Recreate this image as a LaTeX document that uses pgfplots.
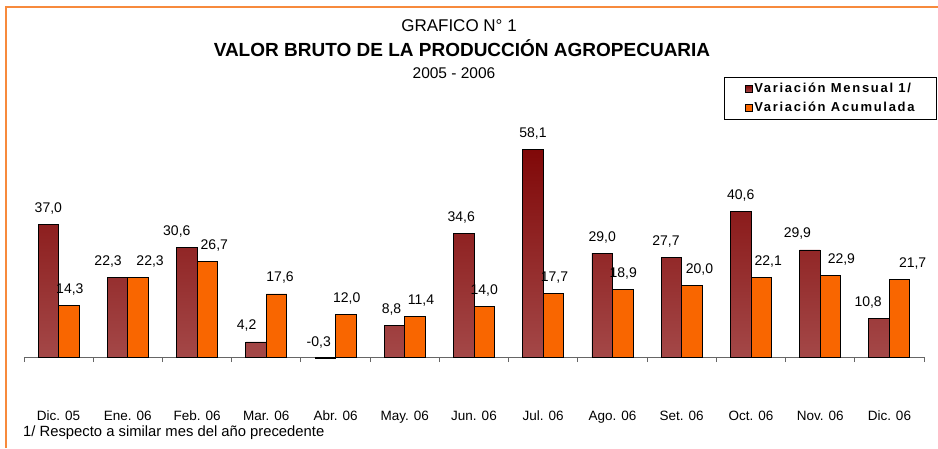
\documentclass[border=0pt]{standalone}
\usepackage{pgfplots}
\usepackage{pgfplotstable}
\pgfplotsset{compat=1.18}
\usepackage{fontspec}
\setmainfont{Liberation Sans}
\newfontfamily\legfont[LetterSpace=13]{Liberation Sans}
\definecolor{darkTop}{RGB}{128,8,8}
\definecolor{darkBot}{RGB}{164,72,72}
\definecolor{barOrange}{RGB}{249,102,0}
\definecolor{frameOrange}{RGB}{247,138,60}
\pgfplotstableread{
x y dx
0 37.0 0
1 22.3 -9.5
2 30.6 -10
3 4.2 -9.5
4 -0.3 -6.5
5 8.8 -3
6 34.6 -2.5
7 58.1 0
8 29.0 0
9 27.7 -5.5
10 40.6 0
11 29.9 -12.5
12 10.8 -11
}\mensual
\pgfplotstableread{
x y dx
0 14.3 1
1 22.3 12
2 26.7 7
3 17.6 3.5
4 12.0 1
5 11.4 6
6 14.0 0
7 17.7 1
8 18.9 0.5
9 20.0 7.5
10 22.1 7
11 22.9 11
12 21.7 13
}\acumulada
\begin{document}
\begin{tikzpicture}
\path[use as bounding box] (0pt,0pt) rectangle (938pt,448pt);
\draw[frameOrange, line width=2.2pt] (6pt,0pt) -- (6pt,441pt) -- (938pt,441pt);
\node[font=\fontsize{17}{19}\selectfont] at (459pt,422pt) {GRAFICO N° 1};
\node[font=\fontsize{19}{21}\selectfont\bfseries] at (462pt,400pt) {VALOR BRUTO DE LA PRODUCCIÓN AGROPECUARIA};
\node[font=\fontsize{15.5}{18}\selectfont] at (454pt,375pt) {2005 - 2006};
\node[anchor=west, font=\fontsize{14.8}{17}\selectfont, inner sep=0pt] at (23pt,15pt) {1/ Respecto a similar mes del año precedente};
\begin{axis}[
  at={(24pt,91pt)}, anchor=south west,
  scale only axis, width=900pt, height=232.7pt,
  xmin=-0.5, xmax=12.5, ymin=0, ymax=65,
  clip=false,
  axis x line=bottom, axis y line=none,
  x axis line style={-, black!60, line width=0.9pt},
  ybar=0pt, bar width=20.5pt,
  xtick={0,...,12},
  xticklabels={Dic. 05, Ene. 06, Feb. 06, Mar. 06, Abr. 06, May. 06, Jun. 06, Jul. 06, Ago. 06, Set. 06, Oct. 06, Nov. 06, Dic. 06},
  major tick length=0pt,
  minor xtick={-0.5,0.5,...,12.5},
  minor tick length=5pt,
  tick align=outside,
  minor tick style={black!60, line width=0.9pt},
  xticklabel style={font=\fontsize{13.5}{15}\selectfont, anchor=base, yshift=-63pt},
  nodes near coords,
  nodes near coords align={anchor=base},
  visualization depends on={\thisrow{dx} \as \labdx},
  every node near coord/.append style={anchor=base, yshift=12pt, xshift=\labdx pt, font=\fontsize{14}{16}\selectfont, black},
  /pgf/number format/.cd, fixed, fixed zerofill, precision=1, use comma, assume math mode=true,
  /pgfplots/.cd,
  legend style={at={(1.0144,1.2033)}, anchor=north east, draw=black, line width=0.8pt,
    inner xsep=20pt, inner ysep=4pt, font=\legfont\bfseries\fontsize{13}{15}\selectfont, row sep=4pt},
  legend cell align=left,
]
\addplot[draw=black, line width=0.8pt, top color=darkTop, bottom color=darkBot,
  legend image code/.code={\draw[draw=black, line width=0.6pt, fill=darkTop!80!darkBot] (0pt,-3.5pt) rectangle (7pt,3.5pt);}]
  table[x=x, y=y] {\mensual};
\addlegendentry{Variación Mensual 1/}
\addplot[draw=black, line width=0.8pt, fill=barOrange,
  legend image code/.code={\draw[draw=black, line width=0.6pt, fill=barOrange] (0pt,-3.5pt) rectangle (7pt,3.5pt);}]
  table[x=x, y=y] {\acumulada};
\addlegendentry{Variación Acumulada}
\end{axis}
\end{tikzpicture}
\end{document}
